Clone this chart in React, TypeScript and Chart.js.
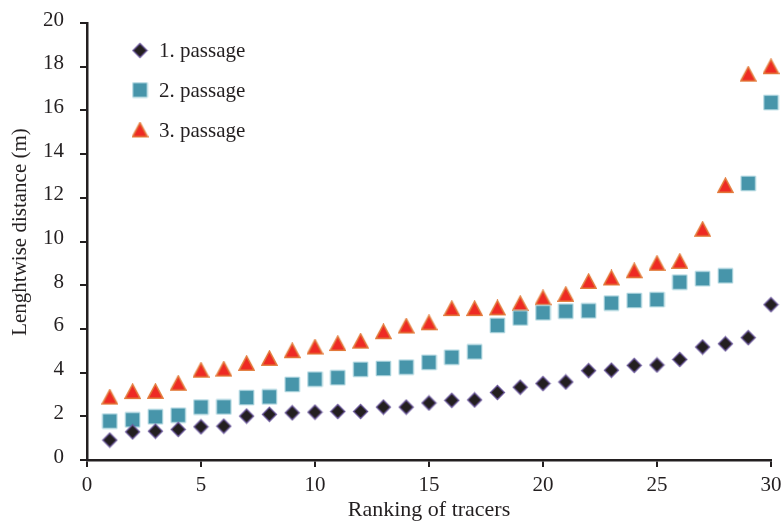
import React, { useEffect, useRef } from "react";
import { Chart, registerables } from "chart.js";

Chart.register(...registerables);

// Tracer rank (1 = shortest travel) and lengthwise distance per passage, in metres
const ranks = [
  1, 2, 3, 4, 5, 6, 7, 8, 9, 10, 11, 12, 13, 14, 15,
  16, 17, 18, 19, 20, 21, 22, 23, 24, 25, 26, 27, 28, 29, 30,
];
const passage1 = [
  0.91, 1.29, 1.32, 1.4, 1.52, 1.55, 2.01, 2.09, 2.16, 2.19, 2.22, 2.22, 2.42, 2.42, 2.61,
  2.73, 2.75, 3.09, 3.33, 3.5, 3.57, 4.09, 4.11, 4.33, 4.35, 4.6, 5.17, 5.32, 5.6, 7.11,
];
const passage2 = [
  1.78, 1.84, 1.98, 2.05, 2.42, 2.43, 2.86, 2.89, 3.46, 3.7, 3.77, 4.15, 4.19, 4.25, 4.47,
  4.7, 4.95, 6.16, 6.5, 6.74, 6.81, 6.83, 7.18, 7.3, 7.34, 8.14, 8.3, 8.43, 12.66, 16.36,
];
const passage3 = [
  2.88, 3.13, 3.14, 3.51, 4.11, 4.16, 4.42, 4.65, 5.0, 5.17, 5.33, 5.44, 5.87, 6.13, 6.28,
  6.93, 6.93, 6.96, 7.16, 7.42, 7.58, 8.17, 8.33, 8.66, 9.0, 9.09, 10.56, 12.56, 17.66, 18.0,
];
const seriesLabels = ["1. passage", "2. passage", "3. passage"];
const xTitle = "Ranking of tracers";
const yTitle = "Lenghtwise distance (m)";

const INK = "#231f20";
const FONT_FAMILY = '"Liberation Serif", "DejaVu Serif", serif';

type Shape = "diamond" | "square" | "triangle";

// Small bitmap markers, drawn centred on each point by Chart.js
function makeMarker(shape: Shape): HTMLCanvasElement {
  const c = document.createElement("canvas");
  const s = 17;
  c.width = s;
  c.height = s;
  const g = c.getContext("2d")!;
  g.lineJoin = "miter";
  g.beginPath();
  if (shape === "diamond") {
    g.moveTo(8.5, 1.5);
    g.lineTo(15.5, 8.5);
    g.lineTo(8.5, 15.5);
    g.lineTo(1.5, 8.5);
    g.closePath();
    g.fillStyle = INK;
    g.fill();
    g.strokeStyle = "#6a579a";
    g.lineWidth = 1.3;
    g.stroke();
  } else if (shape === "square") {
    g.rect(1.2, 1.2, 14.6, 14.6);
    g.fillStyle = "#4795aa";
    g.fill();
    g.strokeStyle = "#b3d9e2";
    g.lineWidth = 1;
    g.stroke();
  } else {
    g.moveTo(8.5, 1.2);
    g.lineTo(16.0, 15.3);
    g.lineTo(1.0, 15.3);
    g.closePath();
    g.fillStyle = "#ee2a24";
    g.fill();
    g.strokeStyle = "#e27b3b";
    g.lineWidth = 1.5;
    g.stroke();
  }
  return c;
}

// Legend placed inside the plot, top-left, stacked vertically
const insideLegend = {
  id: "insideLegend",
  afterDraw(chart: any) {
    const { ctx } = chart;
    const x0 = 140;
    const rows = [50.5, 90, 130];
    ctx.save();
    ctx.font = `21px ${FONT_FAMILY}`;
    ctx.fillStyle = INK;
    ctx.textBaseline = "middle";
    ctx.textAlign = "left";
    chart.data.datasets.forEach((ds: any, i: number) => {
      const img = ds.pointStyle as HTMLCanvasElement;
      ctx.drawImage(img, x0 - img.width / 2, rows[i] - img.height / 2);
      ctx.fillText(ds.label, 159, rows[i] + 1);
    });
    ctx.restore();
  },
};

// Vertical axis title, set a little above the middle of the axis
const yAxisTitle = {
  id: "yAxisTitle",
  afterDraw(chart: any) {
    const { ctx } = chart;
    ctx.save();
    ctx.translate(20, 232);
    ctx.rotate(-Math.PI / 2);
    ctx.font = `21px ${FONT_FAMILY}`;
    ctx.fillStyle = INK;
    ctx.textAlign = "center";
    ctx.textBaseline = "middle";
    ctx.fillText(yTitle, 0, 0);
    ctx.restore();
  },
};

export default function App() {
  const ref = useRef<HTMLCanvasElement | null>(null);

  useEffect(() => {
    if (!ref.current) return;
    const toPoints = (ys: number[]) => ranks.map((r, i) => ({ x: r, y: ys[i] }));
    const markers = [makeMarker("diamond"), makeMarker("square"), makeMarker("triangle")];
    const values = [passage1, passage2, passage3];

    const chart = new Chart(ref.current, {
      type: "scatter",
      data: {
        datasets: values.map((ys, i) => ({
          label: seriesLabels[i],
          data: toPoints(ys),
          pointStyle: markers[i] as any,
          pointRadius: 8,
          showLine: false,
          clip: false,
        })),
      },
      plugins: [insideLegend, yAxisTitle],
      options: {
        responsive: false,
        animation: false,
        events: [],
        layout: { padding: { top: 23, right: 10, left: 0, bottom: 0 } },
        plugins: {
          legend: { display: false },
          tooltip: { enabled: false },
        },
        scales: {
          x: {
            type: "linear",
            min: 0,
            max: 30,
            afterFit: (scale: any) => {
              scale.height = 67;
              scale.paddingLeft = 0;
              scale.paddingRight = 0;
            },
            ticks: {
              stepSize: 5,
              color: INK,
              padding: 6,
              font: { family: FONT_FAMILY, size: 21 },
            },
            grid: {
              display: true,
              drawOnChartArea: false,
              drawTicks: true,
              tickLength: 7,
              color: INK,
              lineWidth: 2,
            },
            border: { display: true, color: INK, width: 2.5 },
            title: {
              display: true,
              text: xTitle,
              color: INK,
              font: { family: FONT_FAMILY, size: 22 },
              padding: { top: 0, bottom: 4 },
            },
          },
          y: {
            type: "linear",
            min: 0,
            max: 20,
            afterFit: (scale: any) => {
              scale.width = 87;
              scale.paddingTop = 0;
              scale.paddingBottom = 0;
            },
            ticks: {
              stepSize: 2,
              color: INK,
              padding: 16,
              labelOffset: -3,
              font: { family: FONT_FAMILY, size: 21 },
            },
            grid: {
              display: true,
              drawOnChartArea: false,
              drawTicks: true,
              tickLength: 7,
              color: INK,
              lineWidth: 2,
            },
            border: { display: true, color: INK, width: 2.5 },
            title: { display: false },
          },
        },
      },
    });
    return () => chart.destroy();
  }, []);

  return (
    <div style={{ position: "fixed", left: 0, top: 0, width: 781, height: 527, background: "#fff" }}>
      <canvas ref={ref} width={781} height={527} style={{ display: "block" }} />
    </div>
  );
}
